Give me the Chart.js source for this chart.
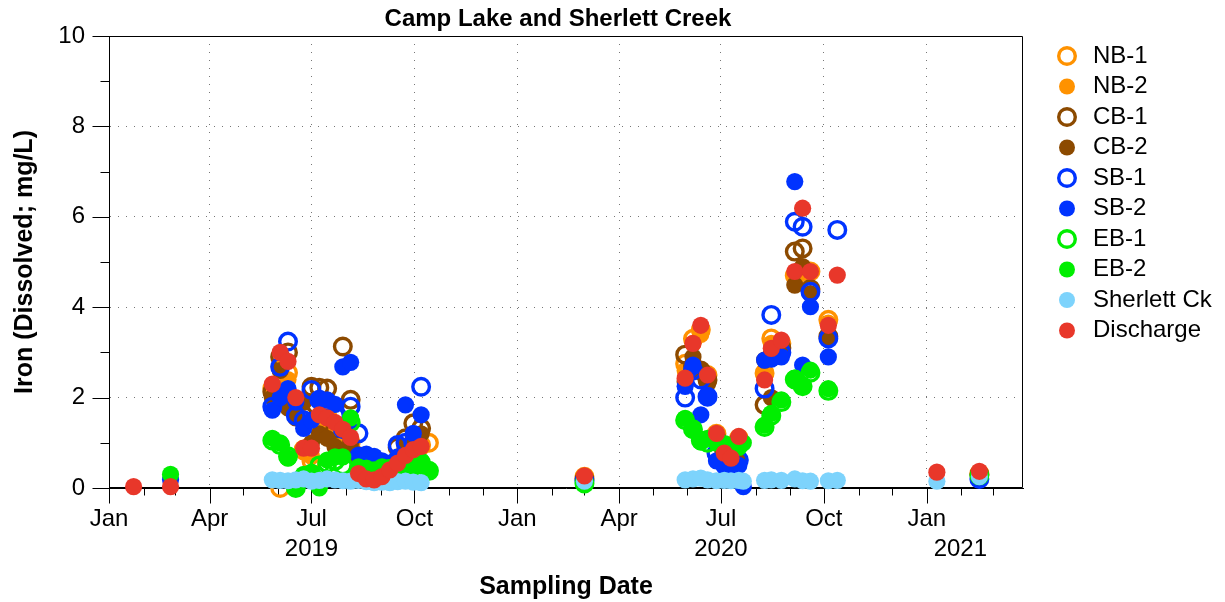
<!DOCTYPE html>
<html>
<head>
<meta charset="utf-8">
<script src="https://cdn.jsdelivr.net/npm/chart.js@4"></script>
<style>
  html, body { margin: 0; padding: 0; background: #fff; }
  #chart { display: block; }
</style>
</head>
<body>
<canvas id="chart" width="1225" height="602"></canvas>
<script>
// sampling dates (shared by every station, null = not sampled / not shown)
const dates = [
  '2019-01-23', '2019-02-25',
  '2019-05-27', '2019-06-03', '2019-06-10', '2019-06-17', '2019-06-24', '2019-07-01', '2019-07-08',
  '2019-07-15', '2019-07-22', '2019-07-29', '2019-08-05', '2019-08-12', '2019-08-19', '2019-08-26',
  '2019-09-02', '2019-09-09', '2019-09-16', '2019-09-23', '2019-09-30', '2019-10-07', '2019-10-14',
  '2020-03-01',
  '2020-05-30', '2020-06-06', '2020-06-13', '2020-06-19', '2020-06-27', '2020-07-04', '2020-07-10',
  '2020-07-17', '2020-07-21',
  '2020-08-09', '2020-08-15', '2020-08-24', '2020-09-05', '2020-09-12', '2020-09-19', '2020-10-05',
  '2020-10-13',
  '2021-01-10', '2021-02-17'
];

const nb1 = [null, null,
  2.2, 0.0, 2.55, 1.7, 0.85, 0.6, 1.5, 1.6, 1.4, 1.2, 1.0, 0.4, 0.3, 0.25, 0.3, 0.4, 0.6, 0.8, 0.9, 0.95, 1.0,
  0.25,
  2.75, 3.3, 3.5, 2.5, 1.2, 0.9, 0.65, 1.1, null,
  2.54, 3.31, 3.2, 4.7, 4.8, 4.79, 3.72, null,
  null, 0.32];
const nb2 = [null, null,
  2.1, 2.7, 2.4, 1.8, 0.8, 0.7, 1.4, 1.5, 1.3, 1.1, 0.9, 0.35, 0.25, 0.2, 0.3, 0.4, 0.55, 0.75, 0.85, 0.9, null,
  0.24,
  2.6, 3.2, 3.4, 2.4, 1.15, 0.85, 0.7, 1.05, null,
  2.5, 3.2, 3.15, 4.65, 4.75, 4.8, 3.65, null,
  null, 0.3];
const cb1 = [null, null,
  2.13, 2.9, 3.0, 1.91, 1.6, 2.24, 2.22, 2.2, 1.3, 3.13, 1.95, 0.7, 0.4, 0.3, 0.35, 0.5, 0.9, 1.1, 1.43, 1.32, null,
  0.2,
  2.95, 2.7, 2.6, 2.39, 1.1, 0.8, 0.62, 1.05, null,
  1.84, 2.9, 3.1, 5.23, 5.3, 4.4, 3.35, null,
  null, 0.3];
const cb2 = [null, null,
  2.0, 2.6, 1.77, 1.55, 1.9, 1.0, 1.2, 1.1, 0.91, 0.8, 1.0, 0.5, 0.3, 0.25, 0.3, 0.4, 0.6, 0.9, 1.1, 1.2, null,
  0.22,
  2.35, 2.9, 2.6, 2.3, 1.0, 0.9, 0.8, 0.6, null,
  2.83, 2.0, 3.0, 4.49, 4.9, 4.3, 3.35, null,
  null, 0.3];
const sb1 = [null, null,
  1.8, 2.68, 3.24, 1.6, 1.5, 2.17, 1.95, 1.9, 1.6, 1.3, 1.8, 1.21, 0.6, 0.5, 0.45, 0.5, 0.95, 1.0, 0.99, 2.24, null,
  0.16,
  2.0, 2.6, 2.4, 2.02, 0.77, 0.55, 0.6, 0.62, null,
  2.2, 3.83, 3.0, 5.89, 5.78, 4.34, 3.31, 5.71,
  null, 0.2];
const sb2 = [null, 0.18,
  1.72, 2.0, 2.2, 1.9, 1.32, 1.5, 1.98, 1.95, 1.85, 2.68, 2.78, 0.73, 0.75, 0.7, 0.6, 0.55, 0.69, 1.84, 1.21, 1.62, null,
  0.2,
  2.25, 2.72, 1.62, 2.02, 0.6, 0.47, 0.4, 0.5, 0.03,
  2.83, 2.85, 2.9, 6.78, 2.72, 4.01, 2.9, null,
  null, 0.2];
const eb1 = [null, null,
  1.05, 0.95, 0.7, 0.0, 0.25, 0.3, 0.5, 0.55, 0.6, 0.5, 1.45, 0.4, 0.38, 0.32, 0.38, 0.42, 0.38, 0.42, 0.48, 0.55, 0.38,
  0.1,
  1.5, 1.3, 1.05, 1.0, 1.05, 0.95, 0.85, 1.0, null,
  1.35, 1.6, 1.9, 2.4, 2.25, 2.55, 2.15, null,
  null, 0.28];
const eb2 = [null, 0.3,
  1.1, 1.0, 0.66, 0.03, 0.3, 0.35, 0.0, 0.62, 0.69, 0.69, 1.55, 0.47, 0.44, 0.4, 0.47, 0.45, 0.47, 0.47, 0.45, 0.6, 0.4,
  0.12,
  1.54, 1.28, 1.02, 1.1, 1.0, 0.95, 0.85, 0.9, 1.0,
  1.39, 1.65, 1.95, 2.43, 2.24, 2.61, 2.2, null,
  null, 0.27];
const sherlett = [null, null,
  0.18, 0.17, 0.16, 0.18, 0.2, 0.15, 0.17, 0.2, 0.18, 0.16, 0.15, 0.17, 0.14, 0.12, 0.13, 0.12, 0.14, 0.15, 0.13, 0.12, null,
  0.15,
  0.18, 0.2, 0.22, 0.18, 0.16, 0.17, 0.16, 0.17, 0.15,
  0.17, 0.18, 0.17, 0.2, 0.16, 0.15, 0.16, 0.17,
  0.15, 0.25];
const discharge = [0.03, 0.03,
  2.3, 3.0, 2.8, 2.0, 0.88, 0.88, 1.62, 1.55, 1.45, 1.3, 1.12, 0.32, 0.2, 0.18, 0.25, 0.4, 0.55, 0.72, 0.85, 0.92, null,
  0.27,
  2.43, 3.2, 3.6, 2.5, 1.21, 0.77, 0.66, 1.14, null,
  2.39, 3.09, 3.27, 4.79, 6.19, 4.79, 3.6, 4.71,
  0.35, 0.37];

const seriesNames = ['NB-1', 'NB-2', 'CB-1', 'CB-2', 'SB-1', 'SB-2', 'EB-1', 'EB-2', 'Sherlett Ck', 'Discharge'];
const seriesValues = [nb1, nb2, cb1, cb2, sb1, sb2, eb1, eb2, sherlett, discharge];
const seriesColors = ['#FF9200', '#FF9200', '#8C4A00', '#8C4A00', '#0033FF', '#0033FF',
  '#00EE00', '#00EE00', '#7DD3FC', '#E8372A'];
const seriesHollow = [true, false, true, false, true, false, true, false, false, false];

const monthNames = ['Jan', 'Feb', 'Mar', 'Apr', 'May', 'Jun', 'Jul', 'Aug', 'Sep', 'Oct', 'Nov', 'Dec'];
const labelledMonths = [0, 3, 6, 9];
const yearLabels = ['2019', '2020', '2021'];
const yearLabelDates = ['2019-07-01', '2020-07-01', '2021-01-31'];
const xStart = '2019-01-01';
const xEnd = '2021-03-28';

const FONT = '"Liberation Sans", Arial, Helvetica, sans-serif';
Chart.defaults.font.family = FONT;
Chart.defaults.color = '#000';

const datasets = seriesNames.map((name, i) => ({
  label: name,
  data: dates.map((d, k) => seriesValues[i][k] == null ? null : { x: Date.parse(d), y: seriesValues[i][k] })
    .filter(p => p !== null),
  pointRadius: seriesHollow[i] ? 8.3 : 8.6,
  pointBorderWidth: seriesHollow[i] ? 3.4 : 0,
  pointBackgroundColor: seriesHollow[i] ? 'rgba(0,0,0,0)' : seriesColors[i],
  pointBorderColor: seriesColors[i],
  pointHoverRadius: seriesHollow[i] ? 8.3 : 8.6,
  order: seriesNames.length - i,
  clip: false
}));

// frame, tick marks, title, year labels and legend
const decor = {
  id: 'decor',
  beforeDatasetsDraw(chart) {
    const ctx = chart.ctx;
    const a = chart.chartArea;
    const xs = chart.scales.x;
    const ys = chart.scales.y;
    ctx.save();
    ctx.strokeStyle = '#000';
    ctx.lineWidth = 1;
    ctx.beginPath();
    const L = Math.round(a.left) + 0.5, R = Math.round(a.right) - 0.5;
    const T = Math.round(a.top) + 0.5, B = Math.round(a.bottom) - 0.5;
    ctx.rect(L, T, R - L, B - T);
    xs.ticks.forEach(t => {
      const px = Math.round(xs.getPixelForValue(t.value)) + 0.5;
      const len = labelledMonths.includes(new Date(t.value).getUTCMonth()) ? 16 : 8;
      ctx.moveTo(px, B);
      ctx.lineTo(px, B + len);
    });
    ys.ticks.forEach(t => {
      const py = Math.round(ys.getPixelForValue(t.value)) + 0.5;
      const len = t.value % 2 === 0 ? 17 : 9;
      ctx.moveTo(L, py);
      ctx.lineTo(L - len, py);
    });
    ctx.stroke();
    ctx.restore();
  },
  afterDraw(chart) {
    const ctx = chart.ctx;
    const xs = chart.scales.x;
    ctx.save();
    ctx.fillStyle = '#000';
    ctx.textBaseline = 'middle';
    ctx.textAlign = 'center';
    ctx.font = 'bold 24px ' + FONT;
    ctx.fillText('Camp Lake and Sherlett Creek', 558, 19);
    ctx.font = '24px ' + FONT;
    yearLabels.forEach((y, i) => {
      ctx.fillText(y, xs.getPixelForValue(Date.parse(yearLabelDates[i])), 549);
    });
    ctx.textAlign = 'left';
    chart.data.datasets.forEach((ds, i) => {
      const cy = 56 + i * 30.5;
      ctx.beginPath();
      ctx.arc(1067, cy, seriesHollow[i] ? 8.3 : 8, 0, Math.PI * 2);
      if (seriesHollow[i]) {
        ctx.lineWidth = 3.4;
        ctx.strokeStyle = ds.pointBorderColor;
        ctx.stroke();
      } else {
        ctx.fillStyle = ds.pointBackgroundColor;
        ctx.fill();
      }
      ctx.fillStyle = '#000';
      ctx.fillText(ds.label, 1093, cy);
    });
    ctx.restore();
  }
};

new Chart(document.getElementById('chart'), {
  type: 'scatter',
  data: { datasets: datasets },
  options: {
    responsive: false,
    animation: false,
    events: [],
    layout: { padding: { top: 36, right: 202, bottom: 0, left: 0 } },
    plugins: { legend: { display: false }, tooltip: { enabled: false } },
    scales: {
      x: {
        type: 'linear',
        min: Date.parse(xStart),
        max: Date.parse(xEnd),
        afterBuildTicks(scale) {
          const ticks = [];
          let y = 2019, m = 0;
          while (Date.UTC(y, m, 1) <= scale.max) {
            ticks.push({ value: Date.UTC(y, m, 1) });
            m++;
            if (m > 11) { m = 0; y++; }
          }
          scale.ticks = ticks;
        },
        afterFit(scale) { scale.height = 114; },
        ticks: {
          autoSkip: false,
          maxRotation: 0,
          minRotation: 0,
          padding: 1,
          font: { size: 24 },
          callback(value) {
            const m = new Date(value).getUTCMonth();
            return labelledMonths.includes(m) ? monthNames[m] : '';
          }
        },
        grid: {
          color(ctx) {
            if (!ctx.tick) return 'rgba(0,0,0,0)';
            const m = new Date(ctx.tick.value).getUTCMonth();
            return labelledMonths.includes(m) && ctx.tick.value > Date.parse(xStart) ? '#777' : 'rgba(0,0,0,0)';
          },
          lineWidth: 1,
          tickLength: 16,
          tickColor: 'rgba(0,0,0,0)'
        },
        border: { display: true, color: '#000', dash: [1, 7] },
        title: {
          display: true,
          text: 'Sampling Date',
          font: { size: 25, weight: 'bold' },
          padding: { top: 0, bottom: 0 }
        }
      },
      y: {
        min: 0,
        max: 10,
        afterFit(scale) { scale.width = 109; },
        ticks: {
          stepSize: 1,
          padding: 7,
          font: { size: 24 },
          callback(value) { return value % 2 === 0 ? value : ''; }
        },
        grid: {
          color(ctx) {
            if (!ctx.tick) return 'rgba(0,0,0,0)';
            const v = ctx.tick.value;
            return v % 2 === 0 && v > 0 && v < 10 ? '#777' : 'rgba(0,0,0,0)';
          },
          lineWidth: 1,
          tickLength: 17,
          tickColor: 'rgba(0,0,0,0)'
        },
        border: { display: true, color: '#000', dash: [1, 7] },
        title: {
          display: true,
          text: 'Iron (Dissolved; mg/L)',
          font: { size: 25, weight: 'bold' },
          padding: { top: 10, bottom: 0 }
        }
      }
    }
  },
  plugins: [decor]
});
</script>
</body>
</html>
